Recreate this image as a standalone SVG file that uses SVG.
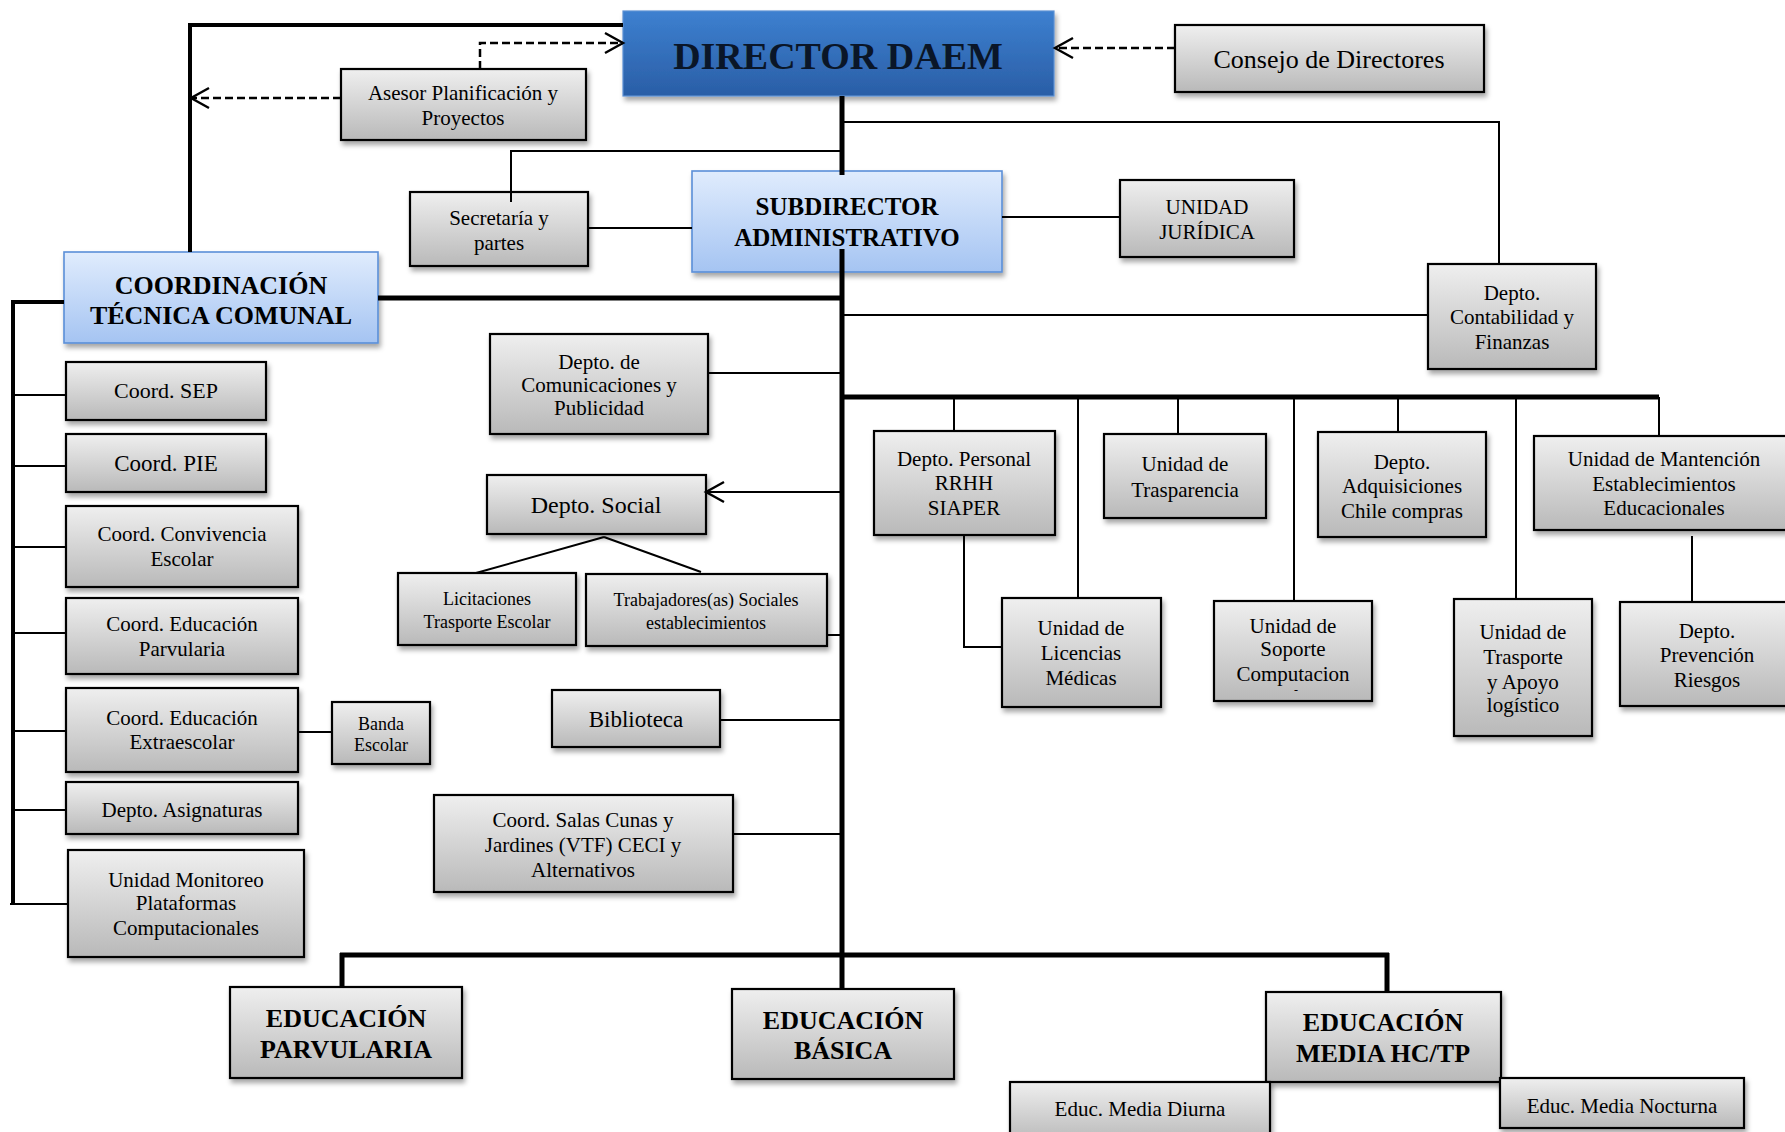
<svg xmlns="http://www.w3.org/2000/svg" width="1785" height="1132" viewBox="0 0 1785 1132">
<defs>
<linearGradient id="gGray" x1="0" y1="0" x2="0" y2="1"><stop offset="0" stop-color="#efefef"/><stop offset="1" stop-color="#b9b9b9"/></linearGradient>
<linearGradient id="gLight" x1="0" y1="0" x2="0" y2="1"><stop offset="0" stop-color="#e0ecfd"/><stop offset="1" stop-color="#a5c4f2"/></linearGradient>
<linearGradient id="gDark" x1="0" y1="0" x2="0" y2="1"><stop offset="0" stop-color="#3d80d0"/><stop offset="1" stop-color="#2a5ea6"/></linearGradient>
<filter id="sh" x="-10%" y="-10%" width="130%" height="140%"><feDropShadow dx="2" dy="4" stdDeviation="2.5" flood-color="#000" flood-opacity="0.35"/></filter>
<marker id="arr" markerUnits="userSpaceOnUse" markerWidth="24" markerHeight="26" viewBox="0 0 24 26" refX="21" refY="13" orient="auto"><path d="M3,3 L21,13 L3,23" fill="none" stroke="#000" stroke-width="2.4" stroke-dasharray="none"/></marker>
<style>
.b{fill:url(#gGray);stroke:#000;stroke-width:2.2;filter:url(#sh)}
.l{fill:url(#gLight);stroke:#5b8fd8;stroke-width:1.6;filter:url(#sh)}
.d{fill:url(#gDark);stroke:#5a8fd2;stroke-width:1.2;filter:url(#sh)}
text{font-family:'Liberation Serif','Times New Roman',serif;fill:#000;text-anchor:middle}
.t{font-size:21px}
.t18{font-size:18px}
.h{font-size:26px;font-weight:bold}
.c{fill:none;stroke:#000}
.th{stroke-width:2}
.tk{stroke-width:5}
.dash{stroke-width:2.5;stroke-dasharray:8 4}
</style>
</defs>

<g id="director"><rect class="d" x="623" y="11" width="431" height="85"/><text x="838" y="69" style="font-size:38px;font-weight:bold;fill:#0a1628">DIRECTOR DAEM</text></g>
<g id="consejo"><rect class="b" x="1175" y="25" width="309" height="67"/><text x="1329" y="68" style="font-size:26px">Consejo de Directores</text></g>
<g id="asesor"><rect class="b" x="341" y="69" width="245" height="71"/><text class="t" x="463" y="100">Asesor Planificación y</text><text class="t" x="463" y="125">Proyectos</text></g>
<g id="secretaria"><rect class="b" x="410" y="192" width="178" height="74"/><text class="t" x="499" y="225">Secretaría y</text><text class="t" x="499" y="250">partes</text></g>
<g id="subdirector"><rect class="l" x="692" y="171" width="310" height="101"/><text x="847" y="215" style="font-size:25px;font-weight:bold">SUBDIRECTOR</text><text x="847" y="246" style="font-size:25px;font-weight:bold">ADMINISTRATIVO</text></g>
<g id="juridica"><rect class="b" x="1120" y="180" width="174" height="77"/><text class="t" x="1207" y="214">UNIDAD</text><text class="t" x="1207" y="239">JURÍDICA</text></g>
<g id="contabilidad"><rect class="b" x="1428" y="264" width="168" height="105"/><text class="t" x="1512" y="300">Depto.</text><text class="t" x="1512" y="324">Contabilidad y</text><text class="t" x="1512" y="349">Finanzas</text></g>
<g id="ctc"><rect class="l" x="64" y="252" width="314" height="91"/><text class="h" x="221" y="294">COORDINACIÓN</text><text class="h" x="221" y="324">TÉCNICA COMUNAL</text></g>
<g id="sep"><rect class="b" x="66" y="362" width="200" height="58"/><text x="166" y="398" style="font-size:22px">Coord. SEP</text></g>
<g id="pie"><rect class="b" x="66" y="434" width="200" height="58"/><text x="166" y="471" style="font-size:23px">Coord. PIE</text></g>
<g id="convivencia"><rect class="b" x="66" y="506" width="232" height="81"/><text class="t" x="182" y="541">Coord. Convivencia</text><text class="t" x="182" y="566">Escolar</text></g>
<g id="coordparv"><rect class="b" x="66" y="598" width="232" height="76"/><text class="t" x="182" y="631">Coord. Educación</text><text class="t" x="182" y="656">Parvularia</text></g>
<g id="extraescolar"><rect class="b" x="66" y="688" width="232" height="84"/><text class="t" x="182" y="725">Coord. Educación</text><text class="t" x="182" y="749">Extraescolar</text></g>
<g id="banda"><rect class="b" x="332" y="702" width="98" height="62"/><text class="t18" x="381" y="730">Banda</text><text class="t18" x="381" y="751">Escolar</text></g>
<g id="asignaturas"><rect class="b" x="66" y="782" width="232" height="52"/><text class="t" x="182" y="817">Depto. Asignaturas</text></g>
<g id="monitoreo"><rect class="b" x="68" y="850" width="236" height="107"/><text class="t" x="186" y="887">Unidad Monitoreo</text><text class="t" x="186" y="910">Plataformas</text><text class="t" x="186" y="935">Computacionales</text></g>
<g id="comunicaciones"><rect class="b" x="490" y="334" width="218" height="100"/><text class="t" x="599" y="369">Depto. de</text><text class="t" x="599" y="392">Comunicaciones y</text><text class="t" x="599" y="415">Publicidad</text></g>
<g id="social"><rect class="b" x="487" y="475" width="219" height="59"/><text x="596" y="513" style="font-size:24px">Depto. Social</text></g>
<g id="licitaciones"><rect class="b" x="398" y="573" width="178" height="72"/><text class="t18" x="487" y="605">Licitaciones</text><text class="t18" x="487" y="628">Trasporte Escolar</text></g>
<g id="trabajadores"><rect class="b" x="586" y="574" width="241" height="72"/><text class="t18" x="706" y="606">Trabajadores(as) Sociales</text><text class="t18" x="706" y="629">establecimientos</text></g>
<g id="biblioteca"><rect class="b" x="552" y="690" width="168" height="57"/><text x="636" y="727" style="font-size:23px">Biblioteca</text></g>
<g id="salascunas"><rect class="b" x="434" y="795" width="299" height="97"/><text class="t" x="583" y="827">Coord. Salas Cunas y</text><text class="t" x="583" y="852">Jardines (VTF) CECI y</text><text class="t" x="583" y="877">Alternativos</text></g>
<g id="edparvularia"><rect class="b" x="230" y="987" width="232" height="91"/><text class="h" x="346" y="1027">EDUCACIÓN</text><text class="h" x="346" y="1058">PARVULARIA</text></g>
<g id="basica"><rect class="b" x="732" y="989" width="222" height="90"/><text class="h" x="843" y="1029">EDUCACIÓN</text><text class="h" x="843" y="1059">BÁSICA</text></g>
<g id="media"><rect class="b" x="1266" y="992" width="235" height="90"/><text class="h" x="1383" y="1031">EDUCACIÓN</text><text class="h" x="1383" y="1062">MEDIA HC/TP</text></g>
<g id="diurna"><rect class="b" x="1010" y="1082" width="260" height="60"/><text class="t" x="1140" y="1116">Educ. Media Diurna</text></g>
<g id="nocturna"><rect class="b" x="1500" y="1078" width="244" height="50"/><text class="t" x="1622" y="1113">Educ. Media Nocturna</text></g>
<g id="personal"><rect class="b" x="874" y="431" width="181" height="104"/><text class="t" x="964" y="466">Depto. Personal</text><text class="t" x="964" y="490">RRHH</text><text class="t" x="964" y="515">SIAPER</text></g>
<g id="trasparencia"><rect class="b" x="1104" y="434" width="162" height="84"/><text class="t" x="1185" y="471">Unidad de</text><text class="t" x="1185" y="497">Trasparencia</text></g>
<g id="adquisiciones"><rect class="b" x="1318" y="432" width="168" height="105"/><text class="t" x="1402" y="469">Depto.</text><text class="t" x="1402" y="493">Adquisiciones</text><text class="t" x="1402" y="518">Chile compras</text></g>
<g id="mantencion"><rect class="b" x="1534" y="436" width="260" height="94"/><text class="t" x="1664" y="466">Unidad de Mantención</text><text class="t" x="1664" y="491">Establecimientos</text><text class="t" x="1664" y="515">Educacionales</text></g>
<g id="licencias"><rect class="b" x="1002" y="598" width="159" height="109"/><text class="t" x="1081" y="635">Unidad de</text><text class="t" x="1081" y="660">Licencias</text><text class="t" x="1081" y="685">Médicas</text></g>
<g id="soporte"><rect class="b" x="1214" y="601" width="158" height="100"/><text class="t" x="1293" y="633">Unidad de</text><text class="t" x="1293" y="656">Soporte</text><text class="t" x="1293" y="681">Computacion</text><text x="1296" y="694" style="font-size:12px">-</text></g>
<g id="trasporte"><rect class="b" x="1454" y="599" width="138" height="137"/><text class="t" x="1523" y="639">Unidad de</text><text class="t" x="1523" y="664">Trasporte</text><text class="t" x="1523" y="689">y Apoyo</text><text class="t" x="1523" y="712">logístico</text></g>
<g id="prevencion"><rect class="b" x="1620" y="602" width="174" height="104"/><text class="t" x="1707" y="638">Depto.</text><text class="t" x="1707" y="662">Prevención</text><text class="t" x="1707" y="687">Riesgos</text></g>

<g id="connectors">
<path class="c tk" d="M842,96 V175 M842,249 V989 M378,298 H842 M842,397 H1659 M340,955 H1389 M342,953 V988 M1387,953 V992"/>
<path class="c" stroke-width="4" d="M190,252 V25 H623 M64,302 H13 V904"/>
<path class="c th" d="M842,122 H1499 V264 M842,151 H511 V202 M588,228 H692 M1002,217 H1120 M842,315 H1428 M708,373 H842 M604,537 L476,573 M604,537 L701,572 M827,635 H842 M720,720 H842 M733,834 H842"/>
<path class="c th" d="M13,395 H66 M13,466 H66 M13,547 H66 M13,633 H66 M13,731 H66 M298,732 H332 M13,810 H66 M10,904 H68"/>
<path class="c th" d="M954,397 V431 M1178,397 V434 M1398,397 V432 M1659,397 V436 M1078,397 V598 M1294,397 V601 M1516,395 V599 M964,535 V647 H1002 M1692,536 V602"/>
<path class="c th" d="M842,492 H706" marker-end="url(#arr)"/>
<path class="c dash" d="M1175,48 H1055" marker-end="url(#arr)"/>
<path class="c dash" d="M480,69 V43 H623" marker-end="url(#arr)"/>
<path class="c dash" d="M341,98 H191" marker-end="url(#arr)"/>
</g>
</svg>
